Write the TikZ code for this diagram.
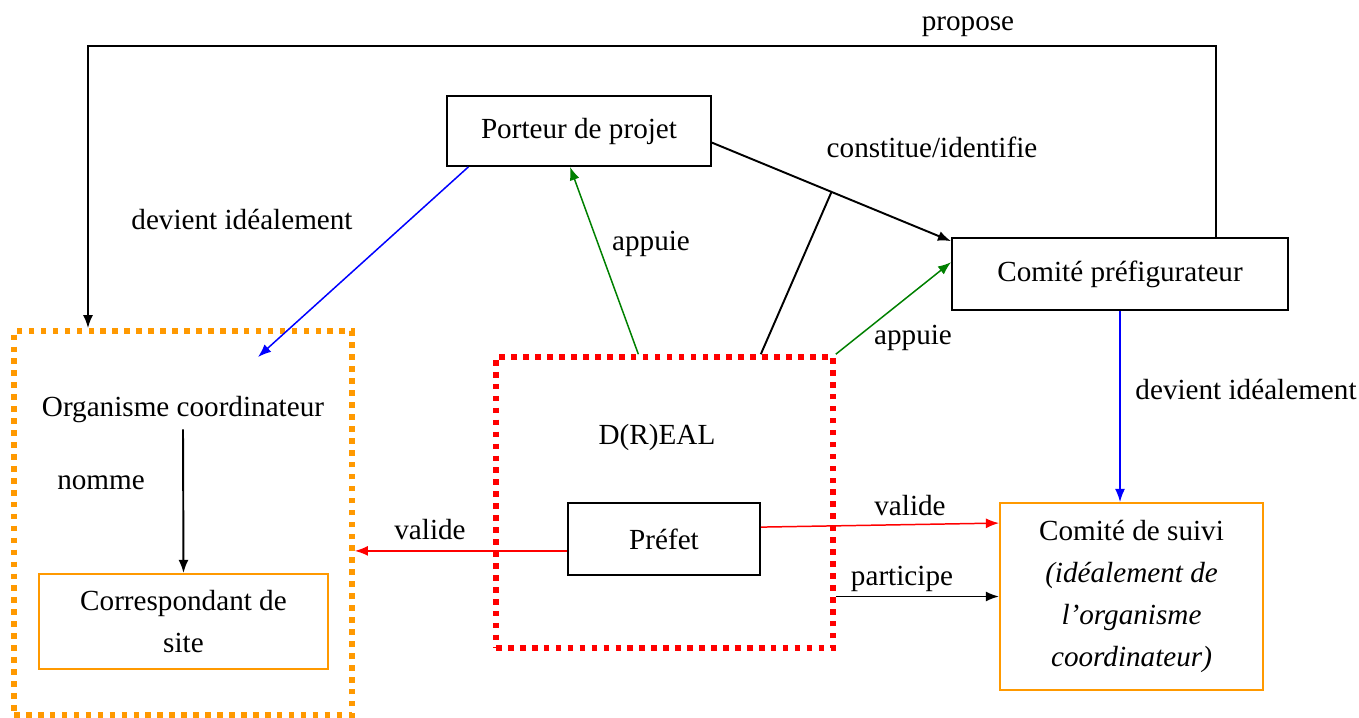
\documentclass[tikz,border=0pt]{standalone}
\usepackage{fontspec}
\setmainfont{Liberation Serif}
\usetikzlibrary{arrows.meta}
\definecolor{orangebox}{RGB}{255,153,0}
\definecolor{greenarr}{RGB}{0,128,0}

\begin{document}
\begin{tikzpicture}[x=0.02cm,y=-0.02cm,
    font=\fontsize{16.6}{24}\selectfont,
    box/.style={draw,line width=1.1pt,inner sep=0pt},
    obox/.style={draw=orangebox,line width=1.1pt,inner sep=0pt,align=center},
    dotbox/.style={line width=3.2pt,dash pattern=on 3.2pt off 3.6pt},
    arr/.style={line width=1.1pt,-{Latex[length=7.5pt,width=5.7pt]}},
    carr/.style={line width=0.85pt,-{Latex[length=7.5pt,width=5.7pt]}}]
    \useasboundingbox (0,0) rectangle (1359,717);

    \node[box,minimum width=5.28cm,minimum height=1.4cm] (porteur) at (579,131) {Porteur de projet};
    \node[box,minimum width=6.72cm,minimum height=1.44cm] (comite) at (1120,274) {Comité préfigurateur};
    \node[dotbox,draw=orangebox,minimum width=6.76cm,minimum height=7.68cm] (orga) at (183,523) {};
    \node (orgtxt) at (183,410) {Organisme coordinateur};
    \node[obox,minimum width=5.78cm,minimum height=1.9cm] (corresp) at (183.5,621.5) {Correspondant de\\site};
    \node[dotbox,draw=red,minimum width=6.74cm,minimum height=5.82cm] (dreal) at (664.5,502.5) {};
    \node (dreallbl) at (657,437) {D(R)EAL};
    \node[box,minimum width=3.84cm,minimum height=1.44cm] (prefet) at (664,539) {Préfet};
    \node[obox,minimum width=5.26cm,minimum height=3.74cm] (suivi) at (1131.5,596.5)
        {Comité de suivi\\\textit{(idéalement de}\\\textit{l’organisme}\\\textit{coordinateur)}};

    \draw[arr] (comite.21) -- (comite.21 |- 0,46) -| (orga.116.5);
    \draw[carr,blue] (porteur.198) -- (258,357);
    \draw[carr,greenarr] (dreal.100) -- (porteur.256);
    \draw[arr] (porteur.-5) -- coordinate[pos=0.5] (mid) (comite.169);
    \draw[line width=1.1pt] (dreal.57) -- (mid);
    \draw[carr,greenarr] (dreal.north east) -- (comite.176);
    \draw[carr,blue] (comite.south) -- (comite.south |- suivi.north);
    \draw[arr] (orgtxt.south) -- (corresp.north);
    \draw[carr,red] (prefet.7) -- (suivi.151);
    \draw[carr,red] (prefet.187) -- (prefet.187 -| orga.east);
    \draw[arr] (dreal.east |- suivi.west) -- (suivi.west);

    \node (lpropose) at (968,27) {propose};
    \node (ldevient) at (242,219) {devient idéalement};
    \node (lappuie) at (651,244) {appuie};
    \node (lconstitue) at (932,147) {constitue/identifie};
    \node (lappuie2) at (913,338) {appuie};
    \node (ldevient2) at (1246,389) {devient idéalement};
    \node (lnomme) at (101,483) {nomme};
    \node (lvalide) at (430,530) {valide};
    \node (lvalide2) at (910,506) {valide};
    \node (lparticipe) at (902,579) {participe};
\end{tikzpicture}
\end{document}
